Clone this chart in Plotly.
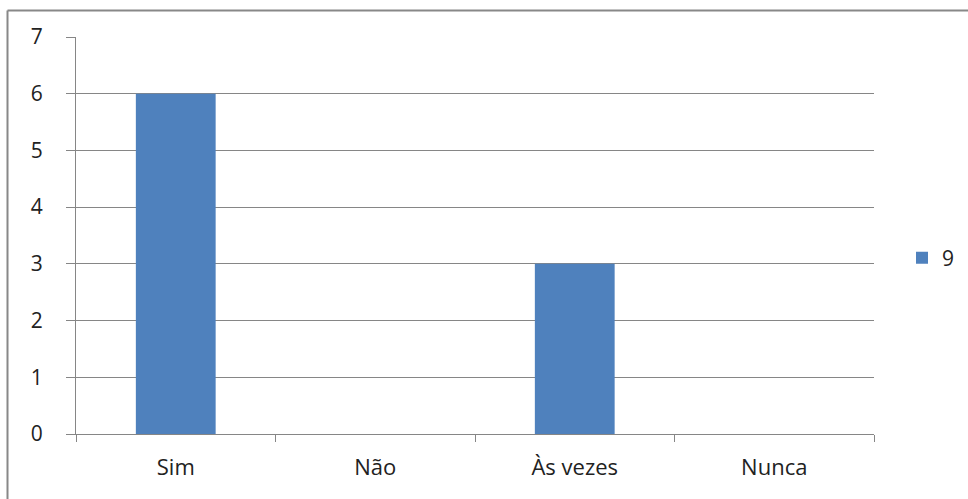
import plotly.graph_objects as go

categories = ["Sim", "Não", "Às vezes", "Nunca"]
values = [6, 0, 3, 0]
series_name = "9"
y_ticks = [0, 1, 2, 3, 4, 5, 6, 7]

W, H = 968, 499
L, R, T, B = 76, 94, 37, 65
pw, ph = W - L - R, H - T - B

def px_x(x):
    return (x - L) / pw

def px_y(y):
    return (H - B - y) / ph

fig = go.Figure()
fig.add_trace(go.Bar(x=categories, y=values, name=series_name,
                     marker=dict(color="#4F81BD", line=dict(width=0)),
                     showlegend=True))

font = dict(family="Open Sans, Noto Sans, sans-serif", size=21, color="#222222")
fig.update_layout(
    width=W, height=H,
    margin=dict(l=L, r=R, t=T, b=B, autoexpand=False),
    paper_bgcolor="white", plot_bgcolor="white",
    bargap=0.6,
    font=font,
    showlegend=True,
    legend=dict(x=px_x(902), y=px_y(258), xanchor="left", yanchor="middle",
                font=dict(size=21), bgcolor="rgba(0,0,0,0)", itemwidth=30),
    xaxis=dict(type="category", showgrid=False, showline=True, linecolor="#868686",
               linewidth=1, ticks="outside", tickson="boundaries", ticklen=7,
               tickcolor="#868686", ticklabelstandoff=14, tickfont=dict(size=22),
               automargin=False),
    yaxis=dict(range=[0, 7], tickvals=y_ticks, showgrid=True, gridcolor="#868686",
               gridwidth=1, showline=True, linecolor="#868686", linewidth=1,
               ticks="outside", ticklen=9, tickcolor="#868686", zeroline=False,
               ticklabelstandoff=19, automargin=False),
    shapes=[
        dict(type="line", xref="paper", yref="paper", x0=px_x(7.5), x1=px_x(W + 5),
             y0=px_y(10.5), y1=px_y(10.5), line=dict(color="#888888", width=2)),
        dict(type="line", xref="paper", yref="paper", x0=px_x(7.5), x1=px_x(7.5),
             y0=px_y(10.5), y1=px_y(H + 5), line=dict(color="#888888", width=2)),
    ],
)

fig.write_html("out.html")
